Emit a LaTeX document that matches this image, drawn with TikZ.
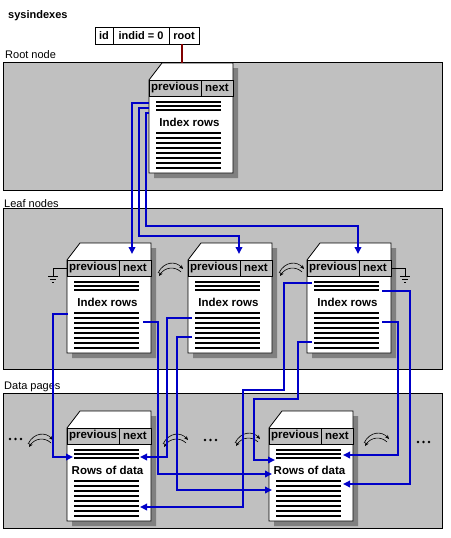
\documentclass[tikz,border=0pt]{standalone}
\usepackage{fontspec}
\setmainfont{Liberation Sans}
\usetikzlibrary{arrows.meta,calc}
\definecolor{panelgray}{RGB}{192,192,192}
\definecolor{shadowgray}{RGB}{128,128,128}
\definecolor{linkblue}{RGB}{0,0,200}
\definecolor{rootred}{RGB}{128,0,0}
\tikzset{
  panel/.style={fill=panelgray, draw=black, line width=0.8pt},
  pagebox/.style={minimum width=84pt, minimum height=110pt, inner sep=0pt, outer sep=0pt, anchor=north west},
  link/.style={draw=linkblue, line width=2pt, -{Triangle[length=7pt,width=6.5pt]}},
  rulestroke/.style={line width=1.8pt},
  hdrtxt/.style={font=\fontsize{11.5}{13}\selectfont\bfseries, inner sep=0pt},
  bodytxt/.style={font=\fontsize{11.5}{13}\selectfont\bfseries, inner sep=0pt},
  lbl/.style={font=\fontsize{11}{13}\selectfont, inner sep=0pt, anchor=base west},
  cell/.style={draw, line width=0.8pt, minimum height=17pt, inner sep=0pt, outer sep=0pt, anchor=north west, font=\fontsize{11}{13}\selectfont\bfseries, fill=white},
  swaparc/.style={line width=0.6pt, -{Stealth[length=4pt,width=3.5pt]}},
  swap/.pic={
    \draw[swaparc] (-12,5) .. controls (-6,-7) and (6,-7) .. (13,1);
    \draw[swaparc] (11,4) .. controls (5,-2) and (-5,-1) .. (-11,8);
  },
  dots/.pic={
    \foreach \i in {0,5.5,11} \fill (\i,0) circle (1.3pt);
  },
  gnd/.pic={
    \draw[line width=0.8pt] (-5,0) -- (5,0);
    \draw[line width=0.8pt] (-3,3) -- (3,3);
    \draw[line width=0.8pt] (-1,6) -- (1,6);
  },
}
\newcommand\drawpagebox[4]{%
  \node[pagebox] (#1) at (#2,#3) {};
  \fill[shadowgray] ($(#1.north west)+(5,22)$) -- ($(#1.north west)+(18,5)$) -- ($(#1.north east)+(5,5)$) -- ($(#1.south east)+(5,5)$) -- ($(#1.south west)+(5,5)$) -- cycle;
  \filldraw[fill=white, draw=black, line width=0.8pt] ($(#1.north west)+(0,17)$) -- ($(#1.north west)+(13,0)$) -- (#1.north east) -- (#1.south east) -- (#1.south west) -- cycle;
  \filldraw[fill=panelgray, draw=black, line width=0.8pt] ($(#1.north west)+(0,17)$) rectangle ($(#1.north east)+(0,33)$);
  \draw[line width=0.8pt] ($(#1.north west)+(52,17)$) -- ($(#1.north west)+(52,33)$);
  \node[hdrtxt] at ($(#1.north west)+(26,25)$) {previous};
  \node[hdrtxt] at ($(#1.north west)+(68,25)$) {next};
  \foreach \yy in {39,43,47,70,75,80,85,90,95,100,105}
    \draw[rulestroke] ($(#1.north west)+(7,\yy)$) -- ++(65,0);
  \node[bodytxt] at ($(#1.north west)+(40.5,59.5)$) {#4};
}
\begin{document}
\begin{tikzpicture}[x=1pt,y=-1pt]
\useasboundingbox (0,0) rectangle (450,538);
% title and sysindexes row
\node[lbl, font=\fontsize{11}{13}\selectfont\bfseries] (title) at (8,18) {sysindexes};
\node[cell, minimum width=18pt] (cid) at (95,27) {id};
\node[cell, minimum width=56pt] (cindid) at (cid.north east) {indid = 0};
\node[cell, minimum width=30pt] (croot) at (cindid.north east) {root};
% panels
\node[lbl] (lblroot) at (5,58) {Root node};
\draw[panel] (3,62) rectangle (442,190);
\node[lbl] (lblleaf) at (4,207) {Leaf nodes};
\draw[panel] (3,208) rectangle (442,369);
\node[lbl] (lbldata) at (4,389) {Data pages};
\draw[panel] (3,393) rectangle (442,528);
% pages
\drawpagebox{rootpg}{149}{63}{Index rows}
\drawpagebox{leafA}{67}{243}{Index rows}
\drawpagebox{leafB}{188}{243}{Index rows}
\drawpagebox{leafC}{307}{243}{Index rows}
\drawpagebox{dataA}{67}{411}{Rows of data}
\drawpagebox{dataB}{269}{411}{Rows of data}
% root pointer
\coordinate (rtop) at ($(croot.south)+(-2,0)$);
\draw[rootred, line width=1.8pt] (rtop) -- (rtop |- rootpg.north);
% ground symbols
\draw[line width=0.8pt] ($(leafA.north west)+(0,25)$) -- ++(-14,0) -- ++(0,8) coordinate (gA);
\pic at (gA) {gnd};
\draw[line width=0.8pt] ($(leafC.north east)+(0,25)$) -- ++(14,0) -- ++(0,8) coordinate (gC);
\pic at (gC) {gnd};
% swap marks
\pic at (170,268) {swap};
\pic at (291,268) {swap};
\pic at (40,439) {swap};
\pic at (175,439) {swap};
\pic at (247,438) {swap};
\pic at (376,438) {swap};
\pic at (10,439) {dots};
\pic at (205,440) {dots};
\pic at (418,442) {dots};
% root -> leaves
\draw[link] ($(rootpg.north west)+(0,40)$) -| ($(leafA.north west)+(65,11)$);
\draw[link] ($(rootpg.north west)+(0,45)$) -- ++(-10,0) |- ($(leafB.north west)+(51,-7)$) -- ($(leafB.north west)+(51,11)$);
\draw[link] ($(rootpg.north west)+(0,50)$) -- ++(-3,0) |- ($(leafC.north west)+(51,-17)$) -- ($(leafC.north west)+(51,11)$);
% leaves -> data pages
\draw[link] ($(leafA.north west)+(1,71)$) -- ++(-15,0) |- ($(dataA.north west)+(6,46)$);
\draw[link] ($(leafA.north west)+(76,79)$) -- ++(15,0) |- ($(dataB.north west)+(3,63)$);
\draw[link] ($(leafB.north west)+(4,75)$) -- ++(-25,0) |- ($(dataA.north west)+(73,46)$);
\draw[link] ($(leafB.north west)+(4,94)$) -- ++(-15,0) |- ($(dataB.north west)+(3,79)$);
\draw[link] ($(leafC.north west)+(5,40)$) -- ++(-28,0) -- ++(0,107) -- ++(-41,0) |- ($(dataA.north west)+(73,96)$);
\draw[link] ($(leafC.north west)+(5,99)$) -- ++(-14,0) -- ++(0,57) -- ++(-44,0) |- ($(dataB.north west)+(6,49)$);
\draw[link] ($(leafC.north west)+(75,48)$) -- ++(28,0) |- ($(dataB.north west)+(74,73)$);
\draw[link] ($(leafC.north west)+(75,79)$) -- ++(16,0) |- ($(dataB.north west)+(74,44)$);
\end{tikzpicture}
\end{document}
